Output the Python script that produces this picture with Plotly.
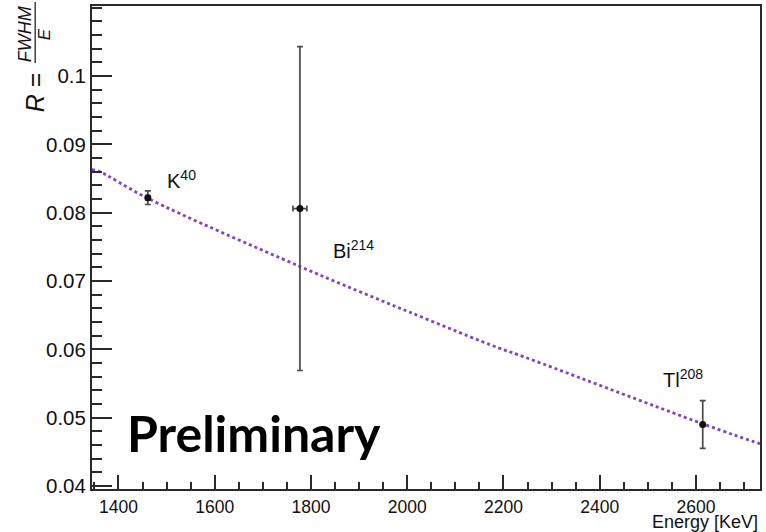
import plotly.graph_objects as go

# Measured resolution points (energy in keV, R = FWHM/E)
isotopes = ["K<sup>40</sup>", "Bi<sup>214</sup>", "Tl<sup>208</sup>"]
energy = [1461, 1777, 2614]
energy_err = [4, 14.5, 0]
resolution = [0.0822, 0.0806, 0.0490]
resolution_err = [0.0010, 0.0237, 0.0035]

# Fitted resolution curve, sampled along the energy range
fit_energy = [1345, 1358, 1461, 1778, 2003, 2190, 2231, 2614, 2728, 2733]
fit_resolution = [0.0863, 0.0861, 0.0821, 0.0721, 0.0655, 0.0602, 0.0592, 0.0491, 0.0463, 0.0462]

# Axis ticks
x_ticks = [1400, 1600, 1800, 2000, 2200, 2400, 2600]
y_ticks = [0.04, 0.05, 0.06, 0.07, 0.08, 0.09, 0.1]
y_tick_text = ["0.04", "0.05", "0.06", "0.07", "0.08", "0.09", "0.1"]

W, H = 766, 532
ML, MR, MT, MB = 92, 4, 6, 43
PW, PH = W - ML - MR, H - MT - MB


def px(x):
    return (x - ML) / PW


def py(y):
    return (H - MB - y) / PH


FONT = "Liberation Sans, Arial, Helvetica, sans-serif"
AXIS_COLOR = "#2a2a2a"

fig = go.Figure()

fig.add_trace(go.Scatter(
    x=fit_energy, y=fit_resolution, mode="lines",
    line=dict(color="#7e44c2", width=2.8, dash="dot", shape="spline"),
    hoverinfo="skip", showlegend=False,
))

fig.add_trace(go.Scatter(
    x=energy, y=resolution, mode="markers",
    marker=dict(color="#111111", size=7),
    error_y=dict(type="data", array=resolution_err, color="#4a4a4a", thickness=1.7, width=3),
    error_x=dict(type="data", array=energy_err, color="#4a4a4a", thickness=1.7, width=3),
    text=isotopes, showlegend=False,
))

annotations = []

# Isotope labels next to each point
label_pos = [(1497, 0.0849), (1842, 0.0746), (2527, 0.0558)]
for name, (lx, ly) in zip(isotopes, label_pos):
    annotations.append(dict(
        x=lx, y=ly, xref="x", yref="y", text=name, showarrow=False,
        xanchor="left", yanchor="middle",
        font=dict(family=FONT, size=20, color="#111111"),
    ))

annotations.append(dict(
    x=1414, y=0.0478, xref="x", yref="y", text="<b>Preliminary</b>", showarrow=False,
    xanchor="left", yanchor="middle",
    font=dict(family="Lato, sans-serif", size=50, color="#000000"),
))

# X axis title, right aligned at the frame edge
annotations.append(dict(
    x=1, y=0, xref="paper", yref="paper", text="Energy [KeV]", showarrow=False,
    xanchor="right", yanchor="top", yshift=-21,
    font=dict(family=FONT, size=18, color="#111111"),
))

# Y axis title: R = FWHM / E (rotated)
annotations.append(dict(
    x=px(35), y=py(92), xref="paper", yref="paper", text="<i>R</i> =", showarrow=False,
    textangle=-90, xanchor="center", yanchor="middle",
    font=dict(family=FONT, size=25, color="#111111"),
))
annotations.append(dict(
    x=px(25), y=py(34), xref="paper", yref="paper", text="<i>FWHM</i>", showarrow=False,
    textangle=-90, xanchor="center", yanchor="middle",
    font=dict(family=FONT, size=18, color="#111111"),
))
annotations.append(dict(
    x=px(44), y=py(34), xref="paper", yref="paper", text="<i>E</i>", showarrow=False,
    textangle=-90, xanchor="center", yanchor="middle",
    font=dict(family=FONT, size=17, color="#111111"),
))

shapes = [dict(
    type="line", xref="paper", yref="paper",
    x0=px(35), x1=px(35), y0=py(2), y1=py(63),
    line=dict(color="#111111", width=1.2),
)]

fig.update_layout(
    width=W, height=H,
    margin=dict(l=ML, r=MR, t=MT, b=MB, pad=0),
    paper_bgcolor="white", plot_bgcolor="white",
    annotations=annotations, shapes=shapes,
    font=dict(family=FONT, color="#111111"),
)

fig.update_xaxes(
    range=[1345, 2733], tickvals=x_ticks, ticktext=[str(v) for v in x_ticks],
    ticks="inside", ticklen=14, tickwidth=1.5, tickcolor=AXIS_COLOR,
    minor=dict(dtick=50, tick0=1400, ticks="inside", ticklen=7, tickwidth=1.5, tickcolor=AXIS_COLOR),
    showline=True, linecolor=AXIS_COLOR, linewidth=2, mirror=True,
    showgrid=False, zeroline=False,
    tickfont=dict(family=FONT, size=17.5, color="#111111"),
    ticklabelstandoff=1,
)
fig.update_yaxes(
    range=[0.03956, 0.11025], tickvals=y_ticks, ticktext=y_tick_text,
    ticks="inside", ticklen=20, tickwidth=1.5, tickcolor=AXIS_COLOR,
    minor=dict(dtick=0.002, tick0=0.04, ticks="inside", ticklen=10, tickwidth=1.5, tickcolor=AXIS_COLOR),
    showline=True, linecolor=AXIS_COLOR, linewidth=2, mirror=True,
    showgrid=False, zeroline=False,
    tickfont=dict(family=FONT, size=20.5, color="#111111"),
    ticklabelstandoff=0,
)

fig.write_html("out.html")
